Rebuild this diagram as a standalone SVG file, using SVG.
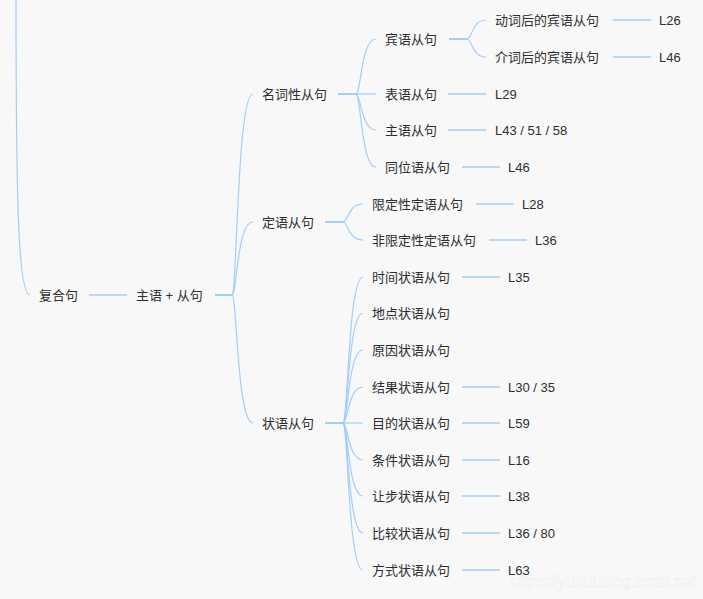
<svg xmlns="http://www.w3.org/2000/svg" width="703" height="599" viewBox="0 0 703 599">
<style>
.bg{fill:#f8f8f8}
.t{font-family:"Liberation Sans","Noto Sans CJK SC",sans-serif;font-size:13px;fill:#2e2e2e}
.c{fill:none;stroke:#a3cdfd;stroke-width:1.2}
.s{fill:none;stroke:#a3cdfd;stroke-width:2}
.l{fill:none;stroke:#a3cdfd;stroke-width:1.5}
.wm{font-family:"Liberation Sans",sans-serif;font-size:16px;fill:#ffffff;stroke:#ebebeb;stroke-width:0.5}
</style>
<rect class="bg" x="0" y="0" width="703" height="599"/>
<text class="wm" x="510" y="587">https://yuhui.blog.csdn.net</text>
<g id="connectors">
<path class="c" d="M16,-10 C16,200 18,295 30,295"/>
<path class="l" d="M89,295 H127"/>
<path class="s" d="M215,295 H232"/>
<path class="c" d="M232,295 C237,295 237,94 253,94"/>
<path class="c" d="M232,295 C237,295 237,222 253,222"/>
<path class="c" d="M232,295 C237,295 237,423 253,423"/>
<path class="s" d="M338,94 H356"/>
<path class="c" d="M356,94 C361,94 361,39 376,39"/>
<path class="c" d="M356,94 H376"/>
<path class="c" d="M356,94 C361,94 361,130 376,130"/>
<path class="c" d="M356,94 C361,94 361,167 376,167"/>
<path class="s" d="M449,39 H467"/>
<path class="c" d="M467,39 C472,39 472,20 486,20"/>
<path class="c" d="M467,39 C472,39 472,57 486,57"/>
<path class="l" d="M613,20 H651"/>
<path class="l" d="M613,57 H651"/>
<path class="l" d="M448,94 H486"/>
<path class="l" d="M448,130 H486"/>
<path class="l" d="M462,167 H500"/>
<path class="s" d="M325,222 H343"/>
<path class="c" d="M343,222 C348,222 348,204 363,204"/>
<path class="c" d="M343,222 C348,222 348,240 363,240"/>
<path class="l" d="M476,204 H514"/>
<path class="l" d="M489,240 H527"/>
<path class="s" d="M325,423 H343"/>
<path class="c" d="M343,423 C348,423 348,277 363,277"/>
<path class="c" d="M343,423 C348,423 348,313 363,313"/>
<path class="c" d="M343,423 C348,423 348,350 363,350"/>
<path class="c" d="M343,423 C348,423 348,387 363,387"/>
<path class="c" d="M343,423 H363"/>
<path class="c" d="M343,423 C348,423 348,460 363,460"/>
<path class="c" d="M343,423 C348,423 348,496 363,496"/>
<path class="c" d="M343,423 C348,423 348,533 363,533"/>
<path class="c" d="M343,423 C348,423 348,570 363,570"/>
<path class="l" d="M462,277 H500"/>
<path class="l" d="M462,387 H500"/>
<path class="l" d="M462,423 H500"/>
<path class="l" d="M462,460 H500"/>
<path class="l" d="M462,496 H500"/>
<path class="l" d="M462,533 H500"/>
<path class="l" d="M462,570 H500"/>
</g>
<g id="root"><text class="t" x="39" y="299.5">复合句</text></g>
<g id="n1"><text class="t" x="136" y="299.5">主语 + 从句</text></g>
<g id="a"><text class="t" x="262" y="98.5">名词性从句</text></g>
<g id="a1"><text class="t" x="385" y="43.5">宾语从句</text></g>
<g id="a1a"><text class="t" x="495" y="24.5">动词后的宾语从句</text></g>
<g id="a1a-ref"><text class="t" x="659" y="24.5">L26</text></g>
<g id="a1b"><text class="t" x="495" y="61.5">介词后的宾语从句</text></g>
<g id="a1b-ref"><text class="t" x="659" y="61.5">L46</text></g>
<g id="a2"><text class="t" x="385" y="98.5">表语从句</text></g>
<g id="a2-ref"><text class="t" x="495" y="98.5">L29</text></g>
<g id="a3"><text class="t" x="385" y="134.5">主语从句</text></g>
<g id="a3-ref"><text class="t" x="495" y="134.5">L43 / 51 / 58</text></g>
<g id="a4"><text class="t" x="385" y="171.5">同位语从句</text></g>
<g id="a4-ref"><text class="t" x="508" y="171.5">L46</text></g>
<g id="b"><text class="t" x="262" y="226.5">定语从句</text></g>
<g id="b1"><text class="t" x="372" y="208.5">限定性定语从句</text></g>
<g id="b1-ref"><text class="t" x="522" y="208.5">L28</text></g>
<g id="b2"><text class="t" x="372" y="244.5">非限定性定语从句</text></g>
<g id="b2-ref"><text class="t" x="535" y="244.5">L36</text></g>
<g id="c"><text class="t" x="262" y="427.5">状语从句</text></g>
<g id="c1"><text class="t" x="372" y="281.5">时间状语从句</text></g>
<g id="c1-ref"><text class="t" x="508" y="281.5">L35</text></g>
<g id="c2"><text class="t" x="372" y="317.5">地点状语从句</text></g>
<g id="c3"><text class="t" x="372" y="354.5">原因状语从句</text></g>
<g id="c4"><text class="t" x="372" y="391.5">结果状语从句</text></g>
<g id="c4-ref"><text class="t" x="508" y="391.5">L30 / 35</text></g>
<g id="c5"><text class="t" x="372" y="427.5">目的状语从句</text></g>
<g id="c5-ref"><text class="t" x="508" y="427.5">L59</text></g>
<g id="c6"><text class="t" x="372" y="464.5">条件状语从句</text></g>
<g id="c6-ref"><text class="t" x="508" y="464.5">L16</text></g>
<g id="c7"><text class="t" x="372" y="500.5">让步状语从句</text></g>
<g id="c7-ref"><text class="t" x="508" y="500.5">L38</text></g>
<g id="c8"><text class="t" x="372" y="537.5">比较状语从句</text></g>
<g id="c8-ref"><text class="t" x="508" y="537.5">L36 / 80</text></g>
<g id="c9"><text class="t" x="372" y="574.5">方式状语从句</text></g>
<g id="c9-ref"><text class="t" x="508" y="574.5">L63</text></g>
</svg>
